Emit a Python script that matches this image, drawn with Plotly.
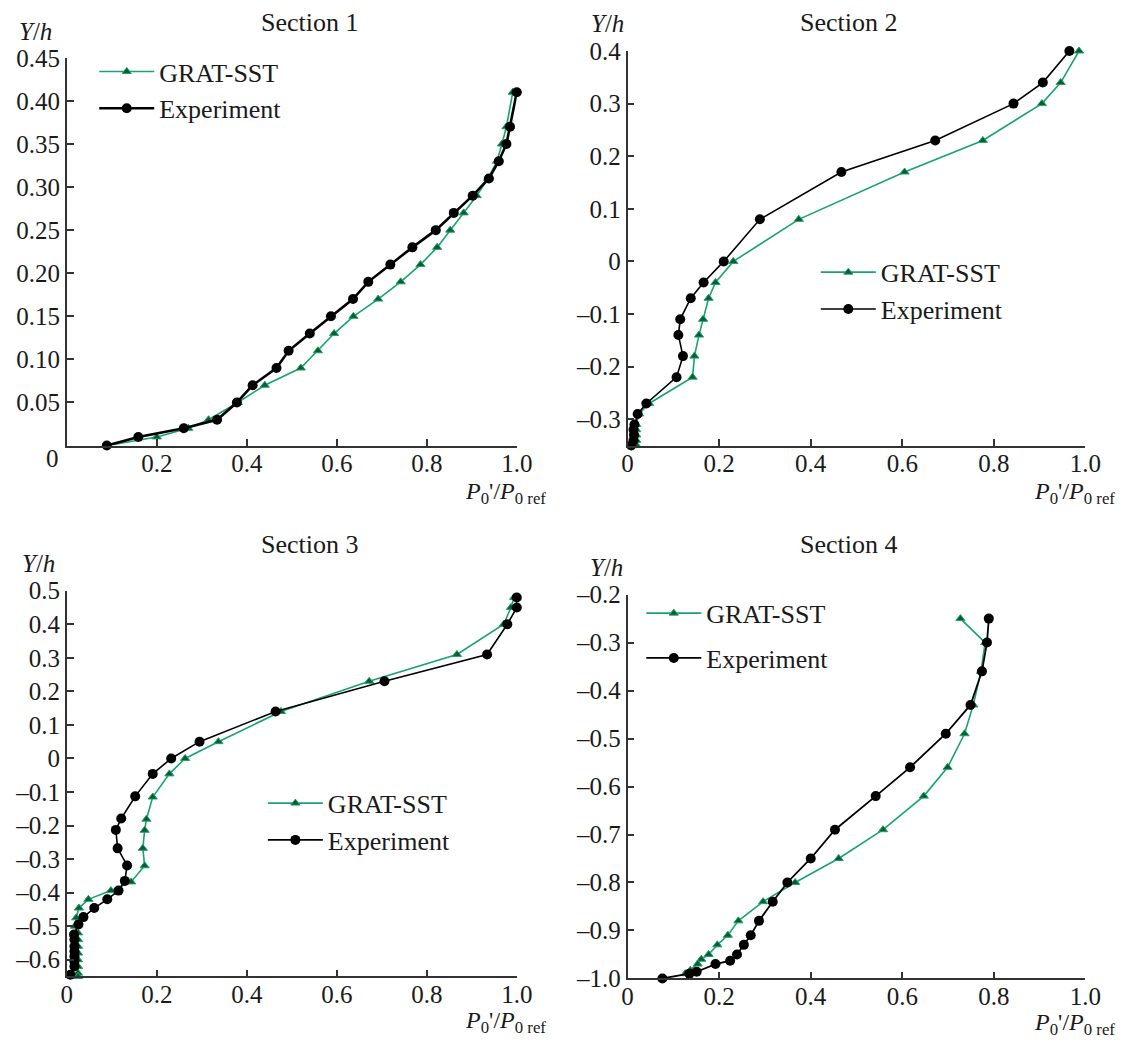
import plotly.graph_objects as go

# ---- Section 1 ----
s1_grat_x = [0.09, 0.20, 0.27, 0.315, 0.38, 0.44, 0.52, 0.558, 0.594, 0.637, 0.692, 0.742,
             0.786, 0.823, 0.852, 0.882, 0.911, 0.936, 0.956, 0.967, 0.977, 0.991]
s1_grat_y = [0.0, 0.01, 0.02, 0.03, 0.05, 0.07, 0.09, 0.11, 0.13, 0.15, 0.17, 0.19,
             0.21, 0.23, 0.25, 0.27, 0.29, 0.31, 0.33, 0.35, 0.37, 0.41]
s1_exp_x = [0.089, 0.159, 0.260, 0.334, 0.378, 0.413, 0.466, 0.493, 0.540, 0.587, 0.636,
            0.670, 0.719, 0.768, 0.820, 0.860, 0.902, 0.938, 0.960, 0.977, 0.985, 1.0]
s1_exp_y = [0.0, 0.01, 0.02, 0.03, 0.05, 0.07, 0.09, 0.11, 0.13, 0.15, 0.17,
            0.19, 0.21, 0.23, 0.25, 0.27, 0.29, 0.31, 0.33, 0.35, 0.37, 0.41]

# ---- Section 2 ----
s2_grat_x = [0.986, 0.946, 0.905, 0.776, 0.605, 0.374, 0.231, 0.192, 0.177, 0.165, 0.156,
             0.146, 0.142, 0.047, 0.025, 0.019, 0.019, 0.019, 0.019, 0.02]
s2_grat_y = [0.40, 0.34, 0.30, 0.23, 0.17, 0.08, 0.0, -0.04, -0.07, -0.11, -0.14,
             -0.18, -0.22, -0.27, -0.29, -0.31, -0.32, -0.33, -0.34, -0.35]
s2_exp_x = [0.965, 0.907, 0.843, 0.672, 0.467, 0.289, 0.210, 0.166, 0.138, 0.115, 0.111,
            0.121, 0.107, 0.041, 0.022, 0.015, 0.013, 0.014, 0.013, 0.008]
s2_exp_y = [0.40, 0.34, 0.30, 0.23, 0.17, 0.08, 0.0, -0.04, -0.07, -0.11, -0.14,
            -0.18, -0.22, -0.27, -0.29, -0.31, -0.32, -0.33, -0.34, -0.35]

# ---- Section 3 ----
s3_grat_x = [0.994, 0.987, 0.971, 0.867, 0.672, 0.476, 0.337, 0.263, 0.228, 0.191, 0.177,
             0.173, 0.169, 0.173, 0.143, 0.098, 0.048, 0.027, 0.021, 0.018,
             0.025, 0.025, 0.025, 0.025, 0.025, 0.025, 0.025, 0.025]
s3_grat_y = [0.48, 0.45, 0.40, 0.31, 0.23, 0.14, 0.05, 0.0, -0.046, -0.115, -0.181,
             -0.214, -0.268, -0.32, -0.368, -0.394, -0.42, -0.446, -0.475, -0.50,
             -0.52, -0.54, -0.56, -0.58, -0.60, -0.62, -0.64, -0.65]
s3_exp_x = [1.0, 1.0, 0.979, 0.934, 0.706, 0.464, 0.295, 0.232, 0.191, 0.152, 0.121,
            0.109, 0.113, 0.134, 0.129, 0.115, 0.090, 0.061, 0.037, 0.026,
            0.016, 0.017, 0.017, 0.017, 0.017, 0.017, 0.017, 0.008]
s3_exp_y = [0.48, 0.45, 0.40, 0.31, 0.23, 0.14, 0.05, 0.0, -0.046, -0.113, -0.179,
            -0.213, -0.268, -0.319, -0.365, -0.394, -0.42, -0.446, -0.473, -0.495,
            -0.525, -0.54, -0.56, -0.575, -0.59, -0.605, -0.62, -0.645]

# ---- Section 4 ----
s4_grat_x = [0.727, 0.781, 0.772, 0.755, 0.736, 0.699, 0.647, 0.558, 0.461, 0.366, 0.296,
             0.242, 0.219, 0.196, 0.177, 0.161, 0.153, 0.137, 0.126]
s4_grat_y = [-0.25, -0.30, -0.36, -0.43, -0.49, -0.56, -0.62, -0.69, -0.75, -0.80, -0.84,
             -0.88, -0.91, -0.93, -0.95, -0.96, -0.97, -0.983, -0.99]
s4_exp_x = [0.789, 0.785, 0.774, 0.749, 0.695, 0.617, 0.542, 0.453, 0.400, 0.349, 0.317,
            0.287, 0.269, 0.254, 0.239, 0.224, 0.192, 0.151, 0.135, 0.076]
s4_exp_y = [-0.25, -0.30, -0.36, -0.43, -0.49, -0.56, -0.62, -0.69, -0.75, -0.80, -0.84,
            -0.88, -0.91, -0.93, -0.95, -0.963, -0.97, -0.986, -0.99, -1.0]

section_titles = ["Section 1", "Section 2", "Section 3", "Section 4"]

x_ticks = [0, 0.2, 0.4, 0.6, 0.8, 1.0]
x_text = ["0", "0.2", "0.4", "0.6", "0.8", "1.0"]

s1_yticks = [0.05, 0.10, 0.15, 0.20, 0.25, 0.30, 0.35, 0.40, 0.45]
s1_ytext = ["0.05", "0.10", "0.15", "0.20", "0.25", "0.30", "0.35", "0.40", "0.45"]
s2_yticks = [-0.3, -0.2, -0.1, 0, 0.1, 0.2, 0.3, 0.4]
s2_ytext = ["\u20130.3", "\u20130.2", "\u20130.1", "0", "0.1", "0.2", "0.3", "0.4"]
s3_yticks = [-0.6, -0.5, -0.4, -0.3, -0.2, -0.1, 0, 0.1, 0.2, 0.3, 0.4, 0.5]
s3_ytext = ["\u20130.6", "\u20130.5", "\u20130.4", "\u20130.3", "\u20130.2", "\u20130.1",
            "0", "0.1", "0.2", "0.3", "0.4", "0.5"]
s4_yticks = [-1.0, -0.9, -0.8, -0.7, -0.6, -0.5, -0.4, -0.3, -0.2]
s4_ytext = ["\u20131.0", "\u20130.9", "\u20130.8", "\u20130.7", "\u20130.6", "\u20130.5",
            "\u20130.4", "\u20130.3", "\u20130.2"]

FONT = "Liberation Serif"
TXT = "#1a1a1a"
GREEN_LINE = "#1aa36f"
GREEN_MARK = "#0c5a30"

fig = go.Figure()

panels = [
    (s1_grat_x, s1_grat_y, s1_exp_x, s1_exp_y, "x", "y", "legend", 2.6),
    (s2_grat_x, s2_grat_y, s2_exp_x, s2_exp_y, "x2", "y2", "legend2", 1.6),
    (s3_grat_x, s3_grat_y, s3_exp_x, s3_exp_y, "x3", "y3", "legend3", 1.6),
    (s4_grat_x, s4_grat_y, s4_exp_x, s4_exp_y, "x4", "y4", "legend4", 1.8),
]

for k, (gx, gy, ex, ey, xa, ya, lg, exp_w) in enumerate(panels):
    fig.add_trace(go.Scatter(
        x=gx, y=gy, xaxis=xa, yaxis=ya, legend=lg, name="GRAT-SST",
        legendgroup=f"g{k}a", mode="lines+markers", cliponaxis=False,
        line=dict(color=GREEN_LINE, width=1.6),
        marker=dict(symbol="triangle-up", size=8, color=GREEN_MARK,
                    line=dict(color=GREEN_LINE, width=1)),
    ))
    fig.add_trace(go.Scatter(
        x=ex, y=ey, xaxis=xa, yaxis=ya, legend=lg, name="Experiment",
        legendgroup=f"g{k}b", mode="lines+markers", cliponaxis=False,
        line=dict(color="black", width=exp_w),
        marker=dict(symbol="circle", size=10, color="black"),
    ))

W, H = 1122, 1047


def px_x(v):
    return v / W


def px_y(v):
    return 1 - v / H


axis_common = dict(
    showgrid=False, zeroline=False, showline=True, linecolor="#333333", linewidth=1.5,
    ticks="inside", ticklen=7, tickwidth=1.5, tickcolor="#333333",
    tickfont=dict(family=FONT, size=25, color=TXT), mirror=False,
)

# plot-area boxes in pixels: (left, right, top, bottom)
boxes = [(62, 521, 46, 444), (634, 1101, 39, 444), (62, 521, 593, 989), (634, 1101, 597, 991)]
y_ranges = [[0, 0.45], [-0.35, 0.4], [-0.65, 0.5], [-1.0, -0.2]]
y_tick_sets = [(s1_yticks, s1_ytext), (s2_yticks, s2_ytext),
               (s3_yticks, s3_ytext), (s4_yticks, s4_ytext)]
title_pos = [(310, 10), (860, 10), (310, 546), (860, 546)]
yname_pos = [(30, 19), (614, 11), (33, 565), (612, 569)]
xname_drop = [49, 49, 47, 47]

layout = dict(
    width=W, height=H, margin=dict(l=0, r=0, t=0, b=0),
    paper_bgcolor="white", plot_bgcolor="white",
    font=dict(family=FONT, color=TXT),
    showlegend=True,
)

annotations = []
for i, ((l, r, t, b), yr, (yt, ytt)) in enumerate(zip(boxes, y_ranges, y_tick_sets)):
    sfx = "" if i == 0 else str(i + 1)
    xt = list(x_text)
    if i == 0:
        xt[0] = ""  # the origin label sits left of the corner in this panel
    layout["xaxis" + sfx] = dict(axis_common, domain=[px_x(l), px_x(r)], range=[0, 1.0],
                                 tickvals=x_ticks, ticktext=xt, anchor="y" + sfx,
                                 ticklabelstandoff=-5)
    layout["yaxis" + sfx] = dict(axis_common, domain=[px_y(b), px_y(t)], range=yr,
                                 tickvals=yt, ticktext=ytt, anchor="x" + sfx)
    annotations.append(dict(text=section_titles[i], xref="paper", yref="paper",
                            x=px_x(title_pos[i][0]), y=px_y(title_pos[i][1]),
                            xanchor="center", yanchor="middle", showarrow=False,
                            font=dict(family=FONT, size=26, color=TXT)))
    annotations.append(dict(text="<i>Y</i>/<i>h</i>", xref="paper", yref="paper",
                            x=px_x(yname_pos[i][0]), y=px_y(yname_pos[i][1]),
                            xanchor="center", yanchor="middle", showarrow=False,
                            font=dict(family=FONT, size=25, color=TXT)))
    annotations.append(dict(text="<i>P</i><sub>0</sub>'/<i>P</i><sub>0 ref</sub>",
                            xref="paper", yref="paper",
                            x=px_x(r + 32), y=px_y(b + xname_drop[i]),
                            xanchor="right", yanchor="middle", showarrow=False,
                            font=dict(family=FONT, size=24, color=TXT)))

annotations.append(dict(text="0", xref="paper", yref="paper", x=px_x(47), y=px_y(457),
                        xanchor="center", yanchor="middle", showarrow=False,
                        font=dict(family=FONT, size=25, color=TXT)))
layout["annotations"] = annotations

legend_style = dict(bgcolor="rgba(0,0,0,0)", borderwidth=0,
                    font=dict(family=FONT, size=26, color=TXT),
                    itemwidth=55, traceorder="grouped", xanchor="left", yanchor="top")
layout["legend"] = dict(legend_style, x=px_x(90), y=px_y(36), tracegroupgap=0)
layout["legend2"] = dict(legend_style, x=px_x(826), y=px_y(242), tracegroupgap=0)
layout["legend3"] = dict(legend_style, x=px_x(262), y=px_y(787), tracegroupgap=0)
layout["legend4"] = dict(legend_style, x=px_x(648), y=px_y(592), tracegroupgap=8)

fig.update_layout(**layout)

fig.write_html("out.html")
